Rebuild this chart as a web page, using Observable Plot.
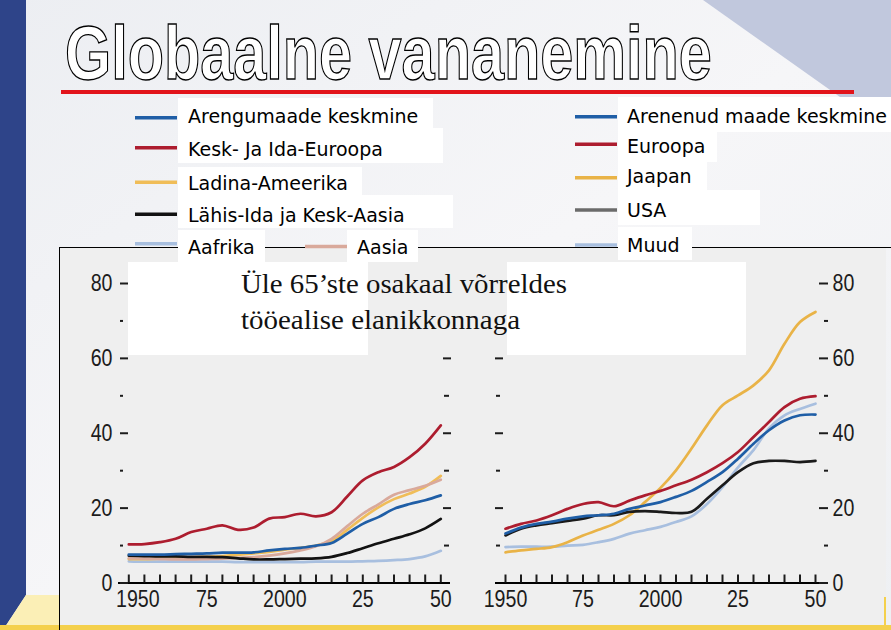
<!DOCTYPE html>
<html><head><meta charset="utf-8">
<script src="https://cdn.jsdelivr.net/npm/d3@7"></script>
<script src="https://cdn.jsdelivr.net/npm/@observablehq/plot@0.6"></script>
<style>
html,body{margin:0;padding:0;background:#fff;}
#wrap{position:relative;width:891px;height:630px;overflow:hidden;}
#wrap > *{position:absolute;}
</style></head><body>
<div id="wrap"></div>
<script>
// ---------- DATA ----------
const years = [1950,1955,1960,1965,1970,1975,1980,1985,1990,1995,2000,2005,2010,2015,2020,2025,2030,2035,2040,2045,2050];

// Left panel: developing regions
const arengumaadeKeskmine = [7.6,7.6,7.6,7.7,7.8,7.9,8.1,8.1,8.2,8.7,9.1,9.4,10.0,10.7,13.2,15.8,17.6,19.8,21.1,22.1,23.4];
const keskJaIdaEuroopa   = [10.3,10.4,10.9,11.8,13.6,14.5,15.4,14.2,14.8,17.2,17.6,18.5,17.8,18.9,23.1,27.4,29.6,31.0,33.6,37.2,42.1];
const ladinaAmeerika     = [6.4,6.4,6.5,6.6,6.8,7.0,7.2,7.5,7.9,8.3,8.9,9.4,10.0,11.2,14.2,17.4,20.2,22.4,23.9,25.7,28.6];
const lahisIdaKeskAasia  = [7.3,7.2,7.1,7.1,7.0,7.0,6.9,6.6,6.3,6.3,6.4,6.5,6.6,7.0,8.0,9.3,10.6,11.8,13.0,14.6,17.1];
const aafrika            = [5.8,5.7,5.7,5.7,5.7,5.7,5.7,5.6,5.6,5.6,5.6,5.6,5.7,5.7,5.7,5.8,5.9,6.1,6.4,7.1,8.6];
const aasia              = [6.6,6.5,6.4,6.3,6.3,6.4,6.5,6.7,6.9,7.3,7.9,8.7,9.8,11.8,15.2,18.5,21.0,23.6,24.8,26.0,27.6];

// Right panel: developed regions
const arenenudMaadeKeskmine = [13.2,14.8,15.8,16.4,17.2,17.8,18.1,18.5,19.8,20.7,21.6,23.0,24.6,27.0,29.6,33.2,37.2,40.8,43.4,44.8,45.0];
const euroopa = [14.5,15.8,16.7,18.1,19.8,21.1,21.6,20.5,22.0,23.4,24.6,26.1,27.6,29.6,32.0,35.0,39.0,43.0,47.0,49.2,49.9];
const jaapan  = [8.2,8.7,9.1,9.6,10.9,12.7,14.2,15.8,18.1,21.6,25.4,30.1,35.9,42.1,47.5,50.1,52.8,56.8,63.9,69.7,72.4];
const usa     = [12.7,14.5,15.4,16.0,16.6,17.2,18.1,18.1,19.0,19.2,19.0,18.7,19.0,22.5,26.1,29.6,32.0,32.6,32.6,32.3,32.6];
const muud    = [9.6,9.7,9.7,9.7,10.0,10.2,10.9,11.8,13.2,14.1,15.0,16.3,17.8,21.1,25.6,30.9,35.5,41.3,44.8,46.5,47.9];

// Ticks and labels
const yMajor = [0,20,40,60,80];
const yMinor = [10,30,50,70];
const yInnerMajor = [20,40,60];
const yInnerMinor = [10,30,50];
const xTickYears = [1950,1955,1960,1965,1970,1975,1980,1985,1990,1995,2000,2005,2010,2015,2020,2025,2030,2035,2040,2045,2050];
const xLabelYears = [1950,1975,2000,2025,2050];
const xLabelTexts = ["1950","75","2000","25","50"];

// Texts
const titleText = "Globaalne vananemine";
const subtitleLines = ["Üle 65’ste osakaal võrreldes", "tööealise elanikkonnaga"];
const leftLegendNames  = ["Arengumaade keskmine","Kesk- Ja Ida-Euroopa","Ladina-Ameerika","Lähis-Ida ja Kesk-Aasia","Aafrika","Aasia"];
const rightLegendNames = ["Arenenud maade keskmine","Euroopa","Jaapan","USA","Muud"];

// ---------- STYLES ----------
const C = {
  blue: "#1f5ea6", red: "#ad1d2f", orange: "#f0bd58", jaapan: "#e9b347", black: "#121212",
  lightblue: "#a8bfdf", pink: "#d9a99b", usaLine: "#1a1a1a", usaSwatch: "#6b6b6b"
};
const grot = "'Liberation Sans',Arial,sans-serif";
const digitWidth = 10.9; // condensed look for tick labels

const leftSeries = [
  {values: aafrika, color: C.lightblue},
  {values: ladinaAmeerika, color: C.orange},
  {values: aasia, color: C.pink},
  {values: lahisIdaKeskAasia, color: C.black},
  {values: arengumaadeKeskmine, color: C.blue},
  {values: keskJaIdaEuroopa, color: C.red}
];
const rightSeries = [
  {values: muud, color: C.lightblue},
  {values: jaapan, color: C.jaapan},
  {values: usa, color: C.usaLine},
  {values: arenenudMaadeKeskmine, color: C.blue},
  {values: euroopa, color: C.red}
];
const leftLegendColors = [C.blue, C.red, C.orange, C.black, C.lightblue, C.pink];
const rightLegendColors = [C.blue, C.red, C.jaapan, C.usaSwatch, C.lightblue];

const wrap = d3.select("#wrap");

// ---------- BACKGROUND ----------
const bg = wrap.append("svg").attr("width", 891).attr("height", 630).style("left","0px").style("top","0px");
const grad = bg.append("defs").append("linearGradient").attr("id","bgg").attr("x1","0").attr("y1","0").attr("x2","1").attr("y2","1");
grad.append("stop").attr("offset","0").attr("stop-color","#eceef2");
grad.append("stop").attr("offset","0.5").attr("stop-color","#f6f6f8");
grad.append("stop").attr("offset","1").attr("stop-color","#eef0f3");
bg.append("rect").attr("width",891).attr("height",630).attr("fill","url(#bgg)");
bg.append("polygon").attr("points","703,0 891,0 891,97 840,97").attr("fill","#c1c8dd");
bg.append("polygon").attr("points","0,0 26,0 26,595 3,630 0,630").attr("fill","#2e4489");
bg.append("polygon").attr("points","26,595 59,595 59,630 3,630").attr("fill","#fbefb6");
bg.append("rect").attr("x",59).attr("y",247).attr("width",827).attr("height",379).attr("fill","#efefef");
bg.append("rect").attr("x",0).attr("y",625).attr("width",891).attr("height",5).attr("fill","#f4d04c");
bg.append("rect").attr("x",884).attr("y",597).attr("width",2).attr("height",29).attr("fill","#f4d04c");
bg.append("line").attr("x1",59).attr("x2",891).attr("y1",247.5).attr("y2",247.5).attr("stroke","#000").attr("stroke-width",1);
bg.append("line").attr("x1",59.5).attr("x2",59.5).attr("y1",247).attr("y2",630).attr("stroke","#000").attr("stroke-width",1);

// ---------- PLOTS ----------
const axisStyle = {fontFamily: grot, fontSize: 24, fill: "#1c1c1c", stroke: "#1c1c1c", strokeWidth: 2, label: null};
const blank = () => "";

function seriesMarks(series) {
  return series.map(s => Plot.line(years, {
    x: d => d, y: (d, i) => s.values[i], stroke: s.color, strokeWidth: 2.7, curve: "catmull-rom"
  }));
}

function xLabelMarks(shiftFirst) {
  const idx = xLabelTexts.map((t, i) => i);
  const first = idx.filter(i => i === 0), rest = idx.filter(i => i !== 0);
  const common = {x: i => xLabelYears[i], y: () => 0, text: i => xLabelTexts[i], dy: 16,
    fontFamily: grot, fontSize: 24, fill: "#1c1c1c", lineAnchor: "middle"};
  return [
    Plot.text(first, {...common, dx: shiftFirst ? 9 : 0}),
    Plot.text(rest, common)
  ];
}

function condense(svg) {
  d3.select(svg).selectAll("text").each(function() {
    const t = this.textContent;
    if (t && t.trim().length) {
      this.setAttribute("textLength", t.length * digitWidth);
      this.setAttribute("lengthAdjust", "spacingAndGlyphs");
    }
  });
}

const leftPlot = Plot.plot({
  width: 400, height: 384,
  marginLeft: 68, marginRight: 18, marginTop: 37, marginBottom: 47.5,
  x: {domain: [1950, 2050], insetLeft: 0.3, insetRight: 1.7},
  y: {domain: [0, 80]},
  style: {background: "transparent", overflow: "visible"},
  marks: [
    ...seriesMarks(leftSeries),
    Plot.ruleY([0], {stroke: "#000", strokeWidth: 2, insetLeft: -10, insetRight: -8}),
    Plot.axisX(xTickYears, {...axisStyle, anchor: "bottom", tickSize: -8, tickFormat: blank}),
    ...xLabelMarks(true),
    Plot.axisY(yMajor, {...axisStyle, anchor: "left", tickSize: 8, tickPadding: 8}),
    Plot.axisY(yMinor, {...axisStyle, anchor: "left", tickSize: 3, dx: -5, tickFormat: blank}),
    Plot.axisY(yInnerMajor, {...axisStyle, anchor: "right", tickSize: 8, tickFormat: blank}),
    Plot.axisY(yInnerMinor, {...axisStyle, anchor: "right", tickSize: 5, dx: 1, tickFormat: blank})
  ]
});
condense(leftPlot);
d3.select(leftPlot).style("left","60px").style("top","246px").style("position","absolute");
wrap.node().appendChild(leftPlot);

const rightPlot = Plot.plot({
  width: 431, height: 384,
  marginLeft: 43, marginRight: 73, marginTop: 37, marginBottom: 47.5,
  x: {domain: [1950, 2050], insetLeft: 2, insetRight: 3},
  y: {domain: [0, 80]},
  style: {background: "transparent", overflow: "visible"},
  marks: [
    ...seriesMarks(rightSeries),
    Plot.ruleY([0], {stroke: "#000", strokeWidth: 2, insetLeft: -8, insetRight: -9}),
    Plot.axisX(xTickYears, {...axisStyle, anchor: "bottom", tickSize: -8, tickFormat: blank}),
    ...xLabelMarks(false),
    Plot.axisY(yMajor, {...axisStyle, anchor: "right", tickSize: 9, tickPadding: 5}),
    Plot.axisY(yMinor, {...axisStyle, anchor: "right", tickSize: 4, dx: 5, tickFormat: blank}),
    Plot.axisY(yInnerMajor, {...axisStyle, anchor: "left", tickSize: 8, tickFormat: blank}),
    Plot.axisY(yInnerMinor, {...axisStyle, anchor: "left", tickSize: 4, dx: -3, tickFormat: blank})
  ]
});
condense(rightPlot);
d3.select(rightPlot).style("left","460px").style("top","246px").style("position","absolute");
wrap.node().appendChild(rightPlot);

// ---------- FOREGROUND: title, subtitle, legend ----------
const fg = wrap.append("svg").attr("width", 891).attr("height", 630).style("left","0px").style("top","0px");

// Title: outlined, horizontally condensed via a scale transform fitted to its measured width
const titleG = fg.append("g");
const titleT = titleG.append("text").text(titleText)
  .attr("x", 0).attr("y", 0)
  .attr("font-family", grot).attr("font-weight", "bold").attr("font-size", 76)
  .attr("fill", "#fff").attr("stroke", "#000").attr("stroke-width", 1.2);
const naturalW = titleT.node().getComputedTextLength() || 880;
const sx = 647 / naturalW;
titleG.attr("transform", `translate(65,79) scale(${sx},1)`);
titleT.attr("stroke-width", 1.2 / Math.sqrt(sx));
fg.append("rect").attr("x", 61).attr("y", 90).attr("width", 793).attr("height", 4).attr("fill", "#e2141b");

// subtitle boxes + text
[[128, 262, 240, 93], [507, 262, 239, 93]].forEach(([x, y, w, h]) =>
  fg.append("rect").attr("x", x).attr("y", y).attr("width", w).attr("height", h).attr("fill", "#fff"));
const subLayout = [{y: 293, len: 326}, {y: 329, len: 279}];
subtitleLines.forEach((t, i) => fg.append("text").text(t)
  .attr("x", 241).attr("y", subLayout[i].y)
  .attr("font-family", "'Liberation Serif','Times New Roman',serif").attr("font-size", 28)
  .attr("textLength", subLayout[i].len).attr("lengthAdjust", "spacingAndGlyphs")
  .attr("fill", "#111"));

// legend layout (positions only)
const leftLegendLayout = [
  {sx: 135, sy: 117.7, tx: 188, ty: 123, box: [178, 98, 255, 30]},
  {sx: 135, sy: 147.7, tx: 188, ty: 156, box: [178, 128, 265, 35]},
  {sx: 135, sy: 182.3, tx: 188, ty: 190, box: [178, 167, 184, 28]},
  {sx: 135, sy: 214.3, tx: 188, ty: 221.5, box: [178, 195, 275, 33]},
  {sx: 135, sy: 243.7, tx: 188, ty: 254, box: [178, 230, 87, 32]},
  {sx: 305, sy: 246.5, tx: 357, ty: 254, box: [347, 230, 71, 32]}
];
const rightLegendLayout = [
  {sx: 575, sy: 116.7, tx: 627, ty: 123, box: [618, 97, 273, 35]},
  {sx: 575, sy: 144.3, tx: 627, ty: 153, box: [618, 132, 99, 30]},
  {sx: 575, sy: 177.7, tx: 627, ty: 183, box: [618, 162, 89, 28]},
  {sx: 575, sy: 210, tx: 627, ty: 216.5, box: [618, 190, 142, 35]},
  {sx: 575, sy: 245, tx: 627, ty: 251.5, box: [618, 227, 74, 33]}
];
function drawLegend(names, colors, layout) {
  names.forEach((name, i) => {
    const L = layout[i];
    fg.append("rect").attr("x", L.box[0]).attr("y", L.box[1]).attr("width", L.box[2]).attr("height", L.box[3]).attr("fill", "#fff");
    fg.append("line").attr("x1", L.sx).attr("x2", L.sx + 42).attr("y1", L.sy).attr("y2", L.sy)
      .attr("stroke", colors[i]).attr("stroke-width", 3.5);
    fg.append("text").text(name).attr("x", L.tx).attr("y", L.ty)
      .attr("font-family", "'DejaVu Sans',Verdana,sans-serif").attr("font-size", 19).attr("fill", "#000");
  });
}
drawLegend(leftLegendNames, leftLegendColors, leftLegendLayout);
drawLegend(rightLegendNames, rightLegendColors, rightLegendLayout);
</script>
</body></html>
